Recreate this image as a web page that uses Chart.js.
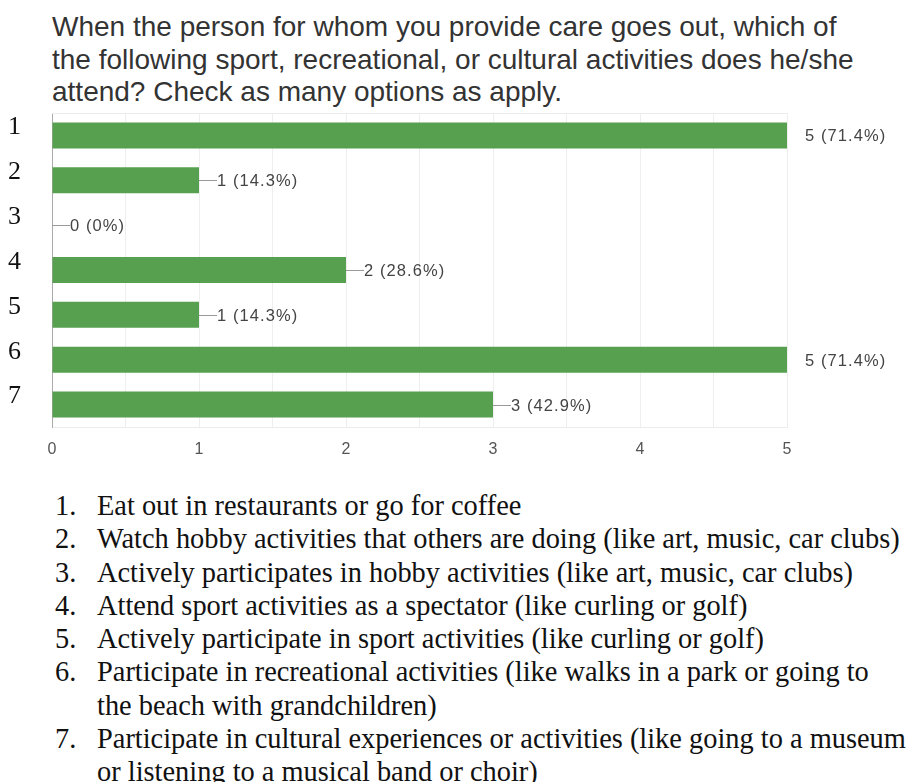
<!DOCTYPE html>
<html>
<head>
<meta charset="utf-8">
<script src="https://cdn.jsdelivr.net/npm/chart.js@4"></script>
<style>
  html, body { margin: 0; padding: 0; background: #fff; }
  body { width: 912px; height: 782px; position: relative; overflow: hidden; }
  #question {
    position: absolute; left: 52px; top: 11px; width: 860px; white-space: nowrap;
    font-family: "Liberation Sans", Arial, sans-serif; font-size: 28px;
    line-height: 32.5px; color: #333;
  }
  #chartBox { position: absolute; left: 0; top: 100px; width: 912px; height: 380px; }
  #options {
    position: absolute; left: 55px; top: 489px; width: 857px; margin: 0; padding: 0;
    list-style: none; white-space: nowrap;
    font-family: "Liberation Serif", "Times New Roman", serif; font-size: 28.4px;
    line-height: 33.3px; color: #111;
  }
  #options li { position: relative; padding-left: 42px; }
  #options li span.n { position: absolute; left: 0; top: 0; }
</style>
</head>
<body>
<div id="question">When the person for whom you provide care goes out, which of<br>the following sport, recreational, or cultural activities does he/she<br>attend? Check as many options as apply.</div>
<div id="chartBox"><canvas id="c"></canvas></div>
<ol id="options"></ol>
<script>
// Answer options (numbered on the y axis, spelled out below the chart)
const categories = ['1', '2', '3', '4', '5', '6', '7'];
const responses = [5, 1, 0, 2, 1, 5, 3];
const percents = ['71.4%', '14.3%', '0%', '28.6%', '14.3%', '71.4%', '42.9%'];
const xTicks = [0, 1, 2, 3, 4, 5];
const optionTexts = [
  'Eat out in restaurants or go for coffee',
  'Watch hobby activities that others are doing (like art, music, car clubs)',
  'Actively participates in hobby activities (like art, music, car clubs)',
  'Attend sport activities as a spectator (like curling or golf)',
  'Actively participate in sport activities (like curling or golf)',
  'Participate in recreational activities (like walks in a park or going to<br>the beach with grandchildren)',
  'Participate in cultural experiences or activities (like going to a museum<br>or listening to a musical band or choir)'
];

const list = document.getElementById('options');
optionTexts.forEach((t, i) => {
  const li = document.createElement('li');
  li.innerHTML = '<span class="n">' + (i + 1) + '.</span>' + t;
  list.appendChild(li);
});

// Count + percentage labels with a short leader line at the end of each bar
const valueLabels = {
  id: 'valueLabels',
  afterDatasetsDraw(chart) {
    const ctx = chart.ctx;
    const meta = chart.getDatasetMeta(0);
    const xs = chart.scales.x;
    const maxVal = Math.max(...responses);
    ctx.save();
    ctx.font = '16.5px "Liberation Sans", Arial, sans-serif';
    ctx.letterSpacing = '1.1px';
    ctx.fillStyle = '#444';
    ctx.textBaseline = 'middle';
    ctx.textAlign = 'left';
    meta.data.forEach((bar, i) => {
      const xEnd = xs.getPixelForValue(responses[i]);
      const y = Math.round(bar.y);
      if (responses[i] < maxVal) {
        ctx.strokeStyle = '#999';
        ctx.lineWidth = 1;
        ctx.beginPath();
        ctx.moveTo(xEnd, y + 0.5);
        ctx.lineTo(xEnd + 18, y + 0.5);
        ctx.stroke();
      }
      ctx.fillText(responses[i] + ' (' + percents[i] + ')', xEnd + 18, y + 1);
    });
    ctx.restore();
  }
};

// Faint frame line along the top of the plot
const frameLines = {
  id: 'frameLines',
  beforeDatasetsDraw(chart) {
    const { ctx, chartArea: a } = chart;
    ctx.save();
    ctx.strokeStyle = '#ececec';
    ctx.lineWidth = 1;
    ctx.beginPath();
    ctx.moveTo(a.left, Math.round(a.top) + 0.5);
    ctx.lineTo(a.right, Math.round(a.top) + 0.5);
    ctx.stroke();
    ctx.restore();
  }
};

new Chart(document.getElementById('c'), {
  type: 'bar',
  data: {
    labels: categories,
    datasets: [{
      data: responses,
      backgroundColor: '#57a050',
      borderWidth: 0,
      barPercentage: 0.58,
      categoryPercentage: 1
    }]
  },
  options: {
    indexAxis: 'y',
    responsive: true,
    maintainAspectRatio: false,
    animation: false,
    layout: { padding: { top: 13, right: 125, left: 0, bottom: 0 } },
    plugins: { legend: { display: false }, tooltip: { enabled: false } },
    scales: {
      x: {
        min: xTicks[0],
        max: xTicks[xTicks.length - 1],
        afterBuildTicks(scale) {
          // gridlines every half unit, labels only on whole numbers
          const t = [];
          for (let v = xTicks[0]; v <= xTicks[xTicks.length - 1] + 1e-9; v += 0.5) t.push({ value: v });
          scale.ticks = t;
        },
        afterFit(scale) { scale.height = 53; scale.paddingLeft = 0; scale.paddingRight = 0; },
        grid: { color: '#eeeeee', drawTicks: false },
        border: { color: '#ececec' },
        ticks: {
          padding: 13,
          color: '#555',
          font: { family: '"Liberation Sans", Arial, sans-serif', size: 16 },
          callback: (v) => (xTicks.includes(v) ? String(v) : '')
        }
      },
      y: {
        afterFit(scale) { scale.width = 52; scale.paddingTop = 0; scale.paddingBottom = 0; },
        grid: { display: false },
        border: { color: '#aaaaaa' },
        ticks: {
          padding: 23,
          labelOffset: -8,
          color: '#111',
          font: { family: '"Liberation Serif", "Times New Roman", serif', size: 26 }
        }
      }
    }
  },
  plugins: [valueLabels, frameLines]
});
</script>
</body>
</html>
